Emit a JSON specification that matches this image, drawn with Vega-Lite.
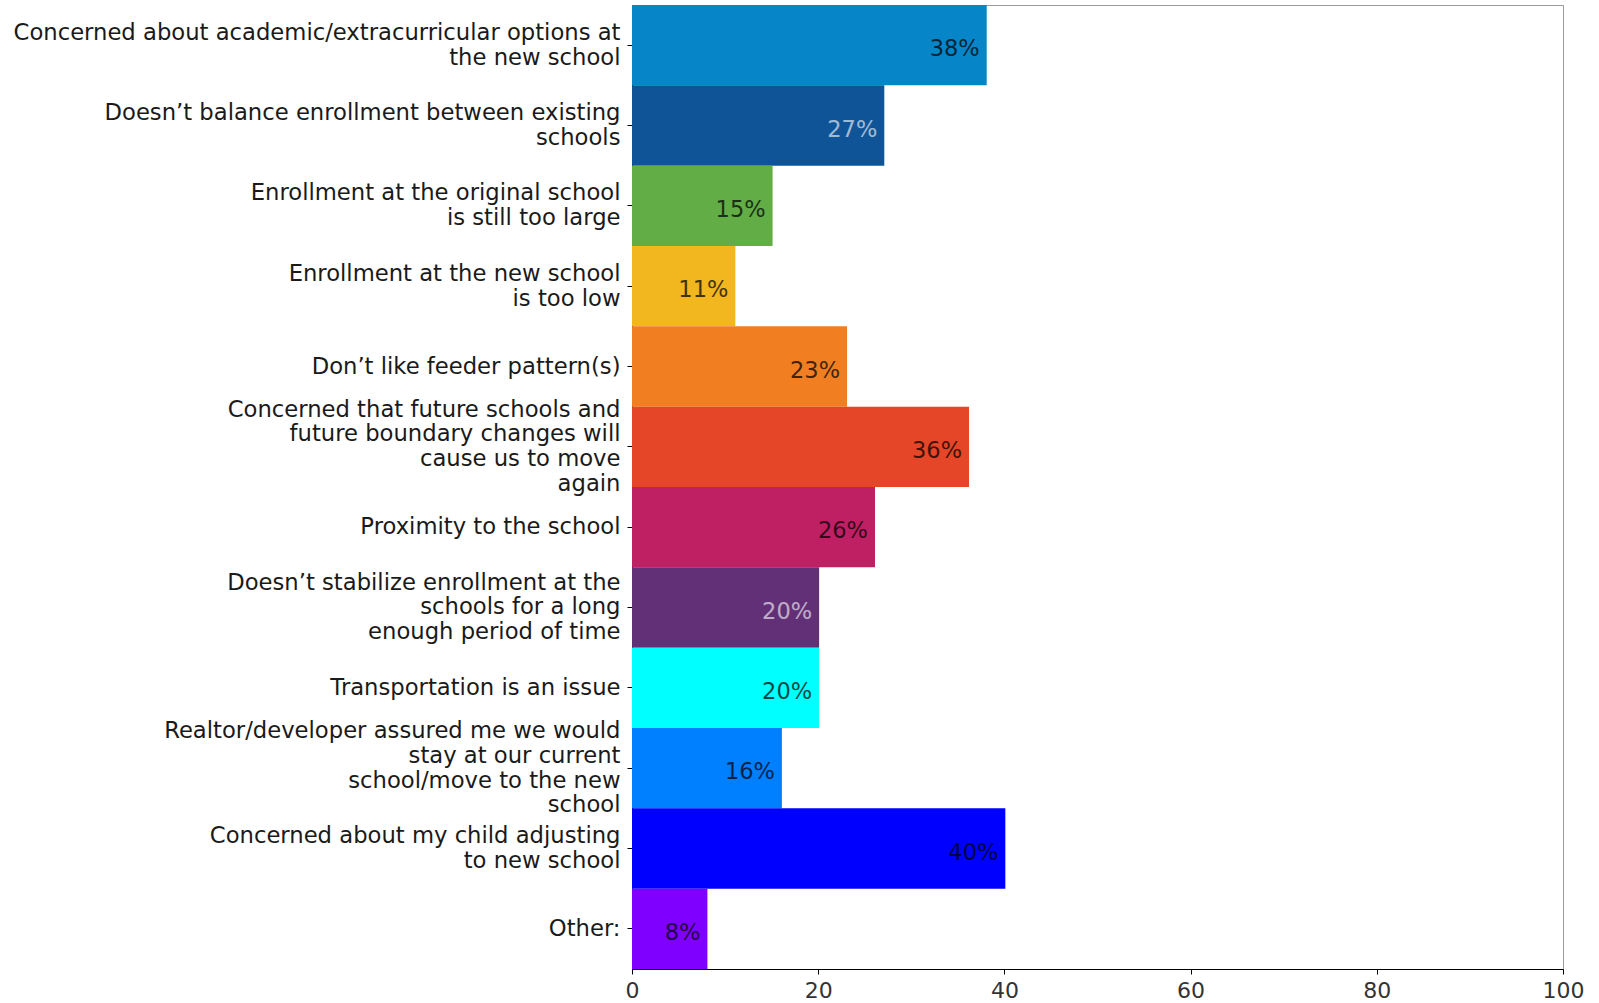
{
  "$schema": "https://vega.github.io/schema/vega-lite/v6.json",
  "autosize": "none",
  "width": 931,
  "height": 964,
  "padding": {"left": 632, "top": 5, "right": 36, "bottom": 34},
  "background": "white",
  "config": {
    "font": "DejaVu Sans",
    "view": {"stroke": "#9a9a9a", "strokeWidth": 1}
  },
  "data": {
    "values": [
      {"reason": "Concerned about academic/extracurricular options at|the new school", "pct": 38.1, "label": "38%"},
      {"reason": "Doesn’t balance enrollment between existing|schools", "pct": 27.1, "label": "27%"},
      {"reason": "Enrollment at the original school|is still too large", "pct": 15.1, "label": "15%"},
      {"reason": "Enrollment at the new school|is too low", "pct": 11.1, "label": "11%"},
      {"reason": "Don’t like feeder pattern(s)", "pct": 23.1, "label": "23%"},
      {"reason": "Concerned that future schools and|future boundary changes will|cause us to move|again", "pct": 36.2, "label": "36%"},
      {"reason": "Proximity to the school", "pct": 26.1, "label": "26%"},
      {"reason": "Doesn’t stabilize enrollment at the|schools for a long|enough period of time", "pct": 20.1, "label": "20%"},
      {"reason": "Transportation is an issue", "pct": 20.1, "label": "20%"},
      {"reason": "Realtor/developer assured me we would|stay at our current|school/move to the new|school", "pct": 16.1, "label": "16%"},
      {"reason": "Concerned about my child adjusting|to new school", "pct": 40.1, "label": "40%"},
      {"reason": "Other:", "pct": 8.1, "label": "8%"}
    ]
  },
  "encoding": {
    "y": {
      "field": "reason",
      "type": "nominal",
      "sort": null,
      "scale": {"paddingInner": 0, "paddingOuter": 0},
      "axis": {
        "title": null,
        "labelExpr": "split(datum.label, '|')",
        "labelFontSize": 22.7,
        "labelColor": "#1a1a1a",
        "labelLineHeight": 24.8,
        "labelPadding": 7,
        "labelOffset": {
          "condition": [
            {"test": "length(split(datum.label, '|')) == 2", "value": -12.4},
            {"test": "length(split(datum.label, '|')) == 3", "value": -24.8},
            {"test": "length(split(datum.label, '|')) == 4", "value": -37.2}
          ],
          "value": 0
        },
        "tickSize": 5,
        "tickColor": "#000",
        "domainColor": "#000",
        "labelLimit": 700
      }
    }
  },
  "layer": [
    {
      "mark": {"type": "bar"},
      "encoding": {
        "x": {
          "field": "pct",
          "type": "quantitative",
          "scale": {"domain": [0, 100]},
          "axis": {
            "title": null,
            "values": [0, 20, 40, 60, 80, 100],
            "grid": false,
            "labelFlush": false,
            "labelFontSize": 22,
            "labelColor": "#333",
            "tickSize": 5,
            "tickColor": "#000",
            "domainColor": "#000",
            "labelPadding": 6
          }
        },
        "color": {
          "field": "reason",
          "type": "nominal",
          "sort": null,
          "legend": null,
          "scale": {
            "range": ["#0686c9", "#0f5497", "#63ad46", "#f2b71e", "#f17f22", "#e54627", "#be2063", "#623076", "#00ffff", "#007fff", "#0000ff", "#7f00ff"]
          }
        }
      }
    },
    {
      "mark": {"type": "text", "align": "right", "baseline": "middle", "dx": -7, "dy": 4, "fontSize": 22.5},
      "encoding": {
        "x": {"field": "pct", "type": "quantitative"},
        "text": {"field": "label"},
        "color": {
          "condition": {"test": "datum.label == '27%' || indexof(datum.reason, 'stabilize') >= 0", "value": "#ffffff"},
          "value": "#000000"
        },
        "opacity": {
          "condition": {"test": "datum.label == '27%' || indexof(datum.reason, 'stabilize') >= 0", "value": 0.6},
          "value": 0.72
        }
      }
    }
  ]
}
